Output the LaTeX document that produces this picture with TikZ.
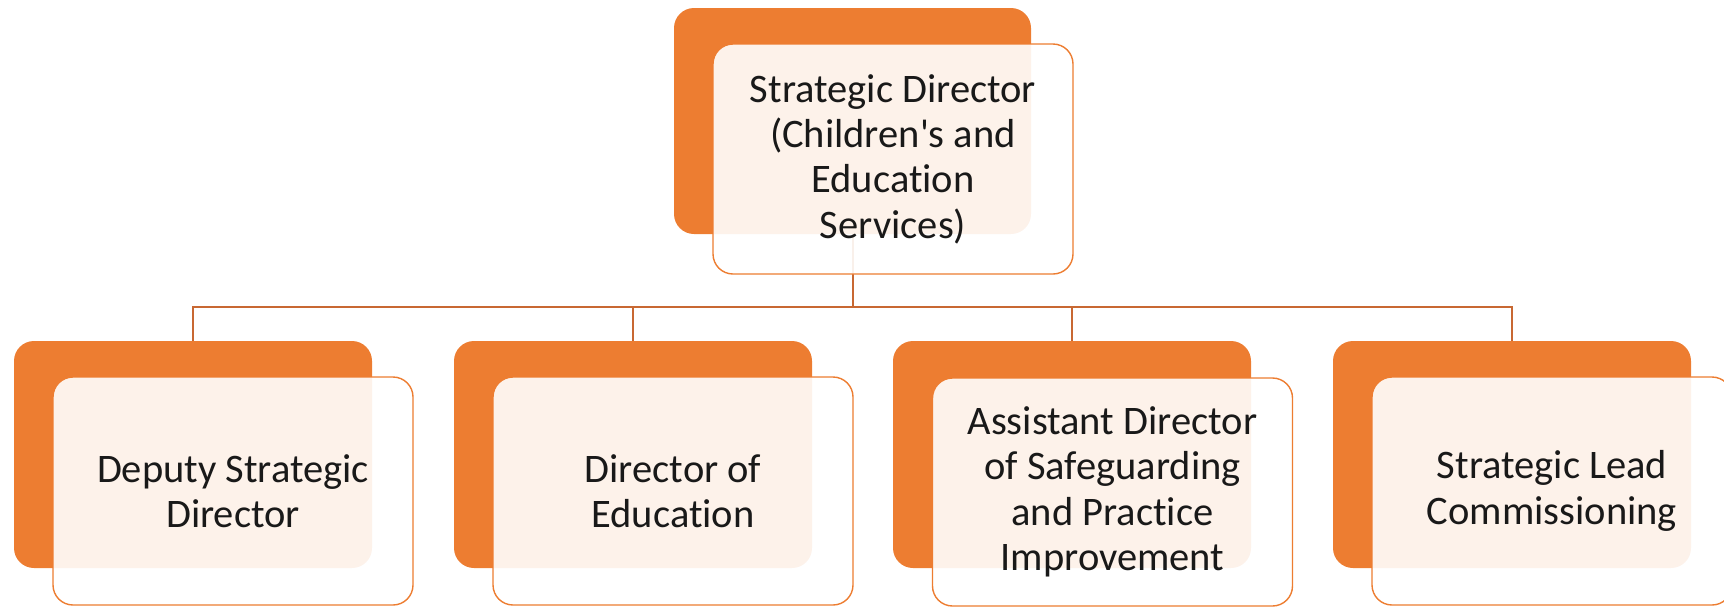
\documentclass[tikz,border=0pt]{standalone}
\usepackage{fontspec}
\newfontfamily\cfont{Carlito}[Ligatures=NoCommon]
\definecolor{accent}{HTML}{ED7D31}
\definecolor{conncol}{RGB}{200,104,50}
\tikzset{
  backbox/.style={fill=accent, draw=none, rounded corners=20pt, minimum width=358pt, minimum height=227pt, inner sep=0pt, outer sep=0pt},
  frontbox/.style={fill=white, fill opacity=0.9, text opacity=1, draw=accent, line width=1.4pt, rounded corners=20pt, minimum width=360pt, minimum height=228pt, inner sep=0pt, outer sep=0pt, align=center, font=\cfont\fontsize{40.5}{45.4}\selectfont, text=black!90},
  conn/.style={draw=conncol, line width=2pt}
}
\begin{document}
\begin{tikzpicture}[x=1pt,y=-1pt]
\useasboundingbox (0,0) rectangle (1724,606);
% back boxes
\node[backbox, minimum width=357pt, minimum height=226pt] (tb) at (852.5,121) {};
\node[backbox] (b1) at (193,454.5) {};
\node[backbox] (b2) at (633,454.5) {};
\node[backbox] (b3) at (1072,454.5) {};
\node[backbox] (b4) at (1512,454.5) {};
% connectors
\coordinate (bus) at (852.5,307);
\draw[conn] (tb.south) -- (tb.south |- bus);
\draw[conn] (tb.south |- bus) -| (b1.north);
\draw[conn] (tb.south |- bus) -| (b2.north);
\draw[conn] (tb.south |- bus) -| (b3.north);
\draw[conn] (tb.south |- bus) -| (b4.north);
% front boxes
\node[frontbox, minimum height=230pt] (t) at (893,159) {Strategic Director\\(Children's and\\Education\\Services)};
\node[frontbox] (f1) at (233,491) {Deputy Strategic\\Director};
\node[frontbox] (f2) at (673,491) {Director of\\Education};
\node[frontbox] (f3) at (1112.5,492) {Assistant Director\\of Safeguarding\\and Practice\\Improvement};
\node[frontbox] (f4) at (1552,491) {Strategic Lead\\Commissioning};
\end{tikzpicture}
\end{document}
